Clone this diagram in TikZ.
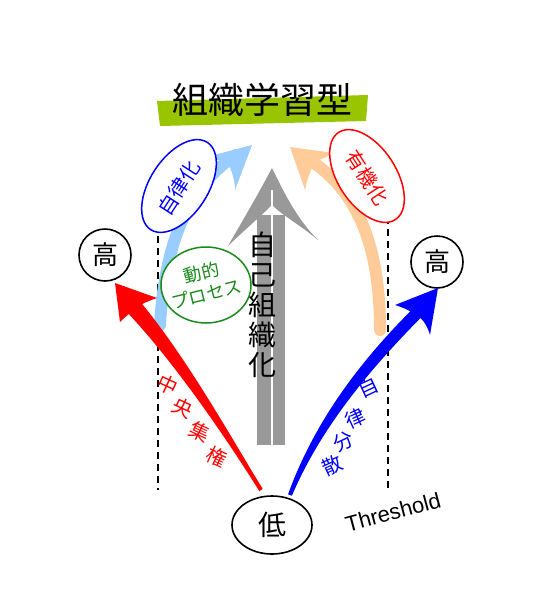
\documentclass[tikz,border=0pt]{standalone}
\usepackage{fontspec}
\newfontfamily\cjk{Noto Sans CJK JP}
\setmainfont{Liberation Sans}
\usetikzlibrary{arrows.meta,shapes.geometric}
\definecolor{banner}{HTML}{99C400}
\definecolor{lblue}{HTML}{99CCFF}
\definecolor{peach}{HTML}{FFCC99}
\definecolor{agray}{HTML}{999999}
\definecolor{dgreen}{HTML}{1A8A1A}
\tikzset{
  circ/.style={draw=black, line width=1.6pt, circle, minimum size=52pt, inner sep=0pt, font=\cjk\fontsize{26}{26}\selectfont},
  bigarrow/.style={line width=#1, line cap=round},
  dline/.style={draw=black, line width=1.6pt, dash pattern=on 7pt off 5pt},
  bubble/.style={draw=#1, line width=1.5pt, ellipse, inner sep=0pt, fill=white},
  lbl/.style={text=#1, font=\cjk\fontsize{20}{20}\selectfont},
}
\begin{document}
\begin{tikzpicture}[x=1pt,y=-1pt]
\useasboundingbox (0,0) rectangle (546,606);
% dashed threshold lines
\coordinate (dl1) at (158,212); \coordinate (dl2) at (158,490);
\coordinate (dr1) at (388,205); \coordinate (dr2) at (388,490);
\draw[dline] (dl1) -- (dl2);
\draw[dline] (dr1) -- (dr2);
% title banner
\coordinate (b1) at (157,101); \coordinate (b2) at (368,95);
\coordinate (b3) at (366,121); \coordinate (b4) at (160,126);
\fill[banner] (b1) -- (b2) -- (b3) -- (b4) -- cycle;
\node[font=\cjk\fontsize{36}{36}\selectfont, inner sep=0pt] (title) at (262,100) {組織学習型};
% nodes
\node[circ] (hiL) at (105,255) {高};
\node[circ] (hiR) at (437,262) {高};
\node[draw=black, line width=1.6pt, ellipse, minimum width=80pt, minimum height=58pt, inner sep=0pt, font=\cjk\fontsize{28}{28}\selectfont] (low) at (272,525) {低};
% gray arrow
\coordinate (gs) at (271,445); \coordinate (ge) at (271,215);
\coordinate (gt) at (272,168); \coordinate (gbl) at (228,246); \coordinate (gbr) at (318,240);
\coordinate (gm) at (272,205);
\draw[agray, bigarrow=28pt, line cap=butt] (gs) -- (ge);
\fill[agray] (gt) .. controls (255,200) and (240,225) .. (gbl) .. controls (250,225) and (262,215) .. (gm) .. controls (282,215) and (300,225) .. (gbr) .. controls (298,220) and (285,195) .. (gt) -- cycle;
\draw[white, line width=1.5pt] (272,190) -- (272,450);
\node[font=\cjk\fontsize{28}{30}\selectfont, align=center, inner sep=0pt] (selforg) at (262,305) {自\\己\\組\\織\\化};
% light blue arrow
\coordinate (lbs) at (160,325); \coordinate (lbt) at (236,155);
\coordinate (lbtip) at (252,145);
\draw[lblue, bigarrow=12pt] (lbs) .. controls (165,240) and (190,185) .. (lbt);
\fill[lblue] (lbtip) -- (203,158) .. controls (215,160) and (225,160) .. (228,163) .. controls (232,172) and (235,180) .. (235,190) -- cycle;
% peach arrow
\coordinate (pks) at (380,330); \coordinate (pkt) at (305,157);
\coordinate (pktip) at (290,147);
\draw[peach, bigarrow=12pt] (pks) .. controls (380,250) and (360,190) .. (pkt);
\fill[peach] (pktip) -- (334,153) .. controls (325,158) and (318,160) .. (314,163) .. controls (310,172) and (307,180) .. (305,190) -- cycle;
% red arrow (tapered)
\coordinate (rs) at (261,490); \coordinate (rt) at (132,305);
\coordinate (rtip) at (115,283);
\fill[red] (262.7,488.9) .. controls (232,439) and (186,356) .. (138.3,299.4) -- (126,311) .. controls (176,364) and (228,441) .. (259.3,491.1) -- cycle;
\fill[red] (rtip) -- (157,298) .. controls (145,302) and (138,306) .. (133,310) .. controls (128,315) and (124,318) .. (120,322) -- cycle;
% blue arrow (tapered)
\coordinate (bs) at (290,495); \coordinate (bt) at (420,310);
\coordinate (btip) at (438,288);
\fill[blue] (288.1,494.3) .. controls (316,417) and (365,356) .. (415.8,305.8) -- (424.2,314.2) .. controls (375,364) and (323,423) .. (291.9,495.7) -- cycle;
\fill[blue] (btip) -- (395,305) .. controls (405,308) and (412,312) .. (418,316) .. controls (424,320) and (428,328) .. (430,335) -- cycle;
% blue bubble
\node[bubble=blue, minimum width=104pt, minimum height=58pt, rotate=57] (bbl) at (179,186) {};
\node[lbl=blue, rotate=57] (bblt) at (179,188) {自律化};
% red bubble
\node[bubble=red, minimum width=104pt, minimum height=58pt, rotate=-57] (rbl) at (367,176) {};
\node[lbl=red, rotate=-57] (rblt) at (367,178) {有機化};
% green bubble
\node[bubble=dgreen, minimum width=90pt, minimum height=76pt] (gbl2) at (206,285) {};
\node[text=dgreen, font=\cjk\fontsize{18}{22}\selectfont, align=center, rotate=14] (gblt) at (204,283) {動的\\プロセス};
% labels along arrows
\node[lbl=red, rotate=-25] (c1) at (168,385) {中};
\node[lbl=red, rotate=-25] (c2) at (183,408) {央};
\node[lbl=red, rotate=-25] (c3) at (200,432) {集};
\node[lbl=red, rotate=-25] (c4) at (217,457) {権};
\node[lbl=blue, rotate=25] (d1) at (368,387) {自};
\node[lbl=blue, rotate=25] (d2) at (355,418) {律};
\node[lbl=blue, rotate=25] (d3) at (343,442) {分};
\node[lbl=blue, rotate=25] (d4) at (332,465) {散};
% threshold
\node[font=\fontsize{22}{22}\selectfont, rotate=15, inner sep=1pt] (thr) at (393,512) {Threshold};
\end{tikzpicture}
\end{document}
